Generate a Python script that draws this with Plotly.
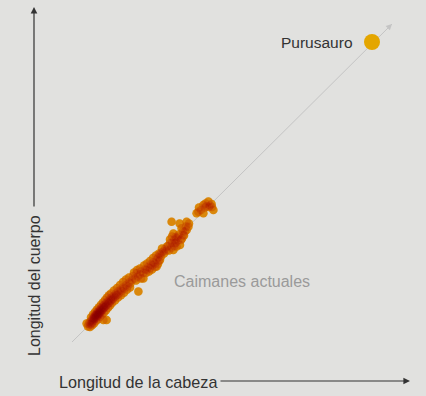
import plotly.graph_objects as go

# Head length (cm) and total body length (m) of living caimans
caiman_head_cm = [
    8.0, 8.3, 8.8, 9.0, 9.2, 9.5, 9.8, 10.0, 10.2, 10.5, 10.7, 11.0, 11.0, 11.3, 11.5,
    11.8, 12.0, 12.2, 12.5, 12.7, 13.0, 13.2, 13.5, 13.7, 14.0, 14.2, 14.5, 14.8, 15.0,
    15.3, 15.6, 15.8, 16.0, 16.4, 16.7, 17.0, 17.3, 17.7, 18.0, 18.4, 18.8, 19.2, 19.6,
    20.0, 20.5, 21.0, 21.5, 22.0, 22.5, 23.0, 23.6, 24.2, 24.8, 25.5, 26.2, 27.0, 27.8,
    28.5, 29.2, 30.0,
    12.0, 13.0, 14.0, 11.5, 12.8, 13.8, 10.8, 15.2, 16.2, 12.3, 13.3, 14.3,
    7.3, 15.7, 17.3,
    9.5, 10.5, 11.5, 12.5, 13.5, 14.5, 15.5, 16.5, 17.5, 18.5, 19.5, 21.0, 22.5, 24.0,
    25.5, 27.0, 28.5,
    10.0, 11.0, 12.0, 13.0, 14.0, 15.0, 16.0, 17.0, 18.0, 19.0, 20.0, 21.5, 23.0, 24.5,
    26.0, 27.5, 29.0,
    11.2, 12.4, 13.6, 14.6, 15.8, 17.0, 18.2, 19.4, 20.6, 22.0,
    30.5, 31.5, 32.3, 33.0, 34.0, 34.5, 35.7, 35.7, 36.5, 37.3, 38.0, 39.0, 39.5, 40.2,
    40.7, 41.5, 42.3, 42.3, 43.0, 43.5, 44.0, 44.0, 44.8, 45.7, 46.5, 47.2, 33.2,
    31.0, 32.5, 34.0, 36.0, 37.5, 39.0, 40.5, 42.0, 43.5, 45.0, 32.0, 34.5, 37.0, 38.5,
    40.0, 41.5, 43.0, 44.5, 46.0, 47.5,
    48.0, 49.0, 49.0, 49.8, 50.7, 50.7, 51.5, 51.8, 52.3, 52.3, 53.0, 53.5, 54.0, 54.8,
    55.0, 55.7, 56.5, 57.3, 57.3, 58.2, 49.8, 53.8,
    50.0, 51.0, 52.0, 53.0, 54.5, 55.5, 56.0, 57.0, 58.5, 48.5, 50.0, 51.2,
    62.3, 63.2, 63.5, 65.7, 65.7, 66.5, 67.3, 68.2, 69.0, 69.8, 70.7,
    64.5, 66.8, 68.5, 70.0,
]
caiman_body_m = [
    0.52, 0.60, 0.66, 0.50, 0.58, 0.70, 0.62, 0.74, 0.66, 0.79, 0.70, 0.82, 0.74, 0.88, 0.78,
    0.90, 0.83, 0.95, 0.86, 0.98, 0.90, 1.02, 0.94, 1.06, 0.98, 1.10, 1.02, 1.13, 1.05,
    1.18, 1.10, 1.22, 1.14, 1.25, 1.18, 1.30, 1.22, 1.34, 1.27, 1.38, 1.32, 1.45, 1.38,
    1.50, 1.43, 1.55, 1.50, 1.62, 1.56, 1.68, 1.62, 1.74, 1.70, 1.82, 1.78, 1.90, 1.86,
    1.98, 1.95, 2.07,
    0.90, 0.96, 1.04, 0.85, 0.92, 1.00, 0.77, 1.08, 1.16, 0.80, 0.88, 0.95,
    0.62, 0.73, 0.73,
    0.82, 0.92, 1.00, 1.08, 1.16, 1.24, 1.32, 1.40, 1.48, 1.56, 1.62, 1.72, 1.80, 1.90,
    2.00, 2.08, 2.15,
    0.56, 0.62, 0.70, 0.76, 0.84, 0.92, 0.98, 1.06, 1.14, 1.22, 1.30, 1.38, 1.48, 1.56,
    1.64, 1.74, 1.82,
    0.80, 0.88, 0.97, 1.06, 1.14, 1.22, 1.30, 1.38, 1.46, 1.55,
    2.20, 2.12, 2.29, 2.18, 2.25, 2.35, 2.30, 2.12, 2.42, 2.40, 2.50, 2.46, 2.58, 2.55,
    2.66, 2.62, 2.75, 2.52, 2.82, 2.70, 2.92, 2.73, 2.98, 3.02, 3.10, 3.05, 1.68,
    2.32, 2.40, 2.45, 2.55, 2.62, 2.70, 2.80, 2.88, 2.95, 3.12, 2.05, 2.12, 2.30, 2.35,
    2.42, 2.50, 2.60, 2.85, 2.95, 3.18,
    3.20, 3.30, 3.42, 3.15, 3.07, 3.62, 3.29, 3.50, 3.18, 3.46, 3.38, 3.58, 3.23, 3.79,
    3.45, 3.57, 3.68, 3.73, 4.01, 3.84, 4.01, 3.95,
    3.30, 3.40, 3.32, 3.52, 3.40, 3.70, 3.55, 3.85, 3.95, 3.05, 3.52, 3.20,
    4.29, 4.34, 4.48, 4.57, 4.29, 4.48, 4.53, 4.68, 4.55, 4.60, 4.40,
    4.40, 4.62, 4.50, 4.50,
]

# Purussaurus estimate
puru_head_cm = [150.0]
puru_body_m = [10.0]
puru_label = "Purusauro"

# Reference proportion line (body m per head cm)
ratio_head_cm = [0.0, 160.0]
ratio_body_m = [0.0, 10.6]

x_title = "Longitud de la cabeza"
y_title = "Longitud del cuerpo"
group_label = "Caimanes actuales"

BG = "#e1e1df"
GOLD = "#e4a600"
FONT = "Liberation Sans, Arial, sans-serif"
W, H = 426, 396
DOT = 8.5

fig = go.Figure()

# proportion line, drawn beneath the points
fig.add_trace(go.Scatter(
    x=ratio_head_cm, y=ratio_body_m, mode="lines",
    line=dict(color="#c4c4c4", width=1),
    hoverinfo="skip", showlegend=False,
))
# gold base layer
fig.add_trace(go.Scatter(
    x=caiman_head_cm, y=caiman_body_m, mode="markers",
    marker=dict(size=DOT, color=GOLD, opacity=0.92, line=dict(width=0)),
    hoverinfo="skip", showlegend=False,
))
# red-orange layer builds up where points overlap
fig.add_trace(go.Scatter(
    x=caiman_head_cm, y=caiman_body_m, mode="markers",
    marker=dict(size=DOT, color="rgb(225,45,0)", opacity=0.17, line=dict(width=0)),
    hoverinfo="skip", showlegend=False,
))
# deep red layer for the densest overlaps
fig.add_trace(go.Scatter(
    x=caiman_head_cm, y=caiman_body_m, mode="markers",
    marker=dict(size=DOT, color="rgb(135,0,0)", opacity=0.09, line=dict(width=0)),
    hoverinfo="skip", showlegend=False,
))
fig.add_trace(go.Scatter(
    x=puru_head_cm, y=puru_body_m, mode="markers",
    marker=dict(size=16, color=GOLD, line=dict(width=0)),
    hoverinfo="skip", showlegend=False,
))

annotations = [
    # arrowhead on the proportion line
    dict(x=ratio_head_cm[1], y=ratio_body_m[1], xref="x", yref="y",
         ax=-6, ay=6, showarrow=True, arrowhead=2, arrowsize=1.2, arrowwidth=1,
         arrowcolor="#c4c4c4", text="", standoff=0),
    # vertical axis arrow
    dict(x=34 / W, y=1 - 7 / H, xref="paper", yref="paper",
         ax=0, ay=201, showarrow=True, arrowhead=2, arrowsize=1.1,
         arrowwidth=1.2, arrowcolor="#333333", text="", standoff=0),
    # horizontal axis arrow
    dict(x=410 / W, y=1 - 381 / H, xref="paper", yref="paper",
         ax=-191, ay=0, showarrow=True, arrowhead=2, arrowsize=1.1,
         arrowwidth=1.2, arrowcolor="#333333", text="", standoff=0),
    dict(x=219 / W, y=1 - 382 / H, xref="paper", yref="paper",
         text=x_title, showarrow=False, xanchor="right", yanchor="middle",
         font=dict(family=FONT, size=16.2, color="#333333")),
    dict(x=34 / W, y=1 - 286 / H, xref="paper", yref="paper",
         text=y_title, showarrow=False, textangle=-90,
         xanchor="center", yanchor="middle",
         font=dict(family=FONT, size=16, color="#333333")),
    dict(x=puru_head_cm[0], y=puru_body_m[0], xref="x", yref="y",
         text=puru_label, showarrow=False, xanchor="right", yanchor="middle",
         xshift=-17, font=dict(family=FONT, size=15.5, color="#333333")),
    dict(x=50, y=2.03, xref="x", yref="y",
         text=group_label, showarrow=False, xanchor="left", yanchor="middle",
         font=dict(family=FONT, size=16, color="#9a9a9a")),
]

fig.update_layout(
    width=W, height=H, autosize=False,
    margin=dict(l=0, r=0, t=0, b=0, pad=0),
    paper_bgcolor=BG, plot_bgcolor=BG,
    xaxis=dict(range=[-36, 177], visible=False, fixedrange=True),
    yaxis=dict(range=[-1.8, 11.4], visible=False, fixedrange=True),
    annotations=annotations,
    hovermode=False,
)

fig.write_html("out.html", config={"displayModeBar": False, "staticPlot": True})
